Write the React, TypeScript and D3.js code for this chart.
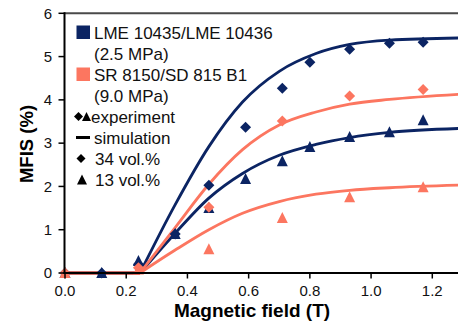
import React from "react";
import * as d3 from "d3";

// ---- data ----
const xTicks = [0, 0.2, 0.4, 0.6, 0.8, 1.0, 1.2];
const yTicks = [0, 1, 2, 3, 4, 5, 6];

const fieldAll = [0, 0.12, 0.24, 0.36, 0.47, 0.59, 0.71, 0.8, 0.93, 1.06, 1.17];
const lme34Exp = [0, 0, 0.2, 0.9, 2.03, 3.37, 4.27, 4.87, 5.17, 5.31, 5.33];
const lme13Exp = [0, 0, 0.28, 0.9, 1.5, 2.17, 2.58, 2.91, 3.14, 3.25, 3.53];

const fieldSR = [0, 0.24, 0.47, 0.71, 0.93, 1.17];
const sr34Exp = [0, 0.12, 1.52, 3.51, 4.09, 4.24];
const sr13Exp = [0, 0.08, 0.55, 1.27, 1.75, 1.98];

// simulation curves (flat at zero until the onset field)
const onset = 0.245;
const simField = [0.245, 0.36, 0.47, 0.58, 0.7, 0.82, 0.93, 1.06, 1.29];
const lme34Sim = [0, 1.58, 2.92, 3.95, 4.66, 5.07, 5.28, 5.38, 5.43];
const sr34Sim = [0, 1.05, 2.05, 2.85, 3.42, 3.72, 3.9, 4.01, 4.13];
const lme13Sim = [0, 0.92, 1.73, 2.3, 2.72, 2.97, 3.13, 3.25, 3.34];
const sr13Sim = [0, 0.53, 1.0, 1.38, 1.65, 1.82, 1.91, 1.97, 2.03];

const legendItems = [
  "LME 10435/LME 10436",
  "(2.5 MPa)",
  "SR 8150/SD 815 B1",
  "(9.0 MPa)",
  "experiment",
  "simulation",
  "34 vol.%",
  "13 vol.%",
];

const NAVY = "#0b2463";
const CORAL = "#fc7660";
const FONT = "'Liberation Sans', Arial, sans-serif";

const W = 458;
const H = 326;

export default function App() {
  const x = d3.scaleLinear().domain([0, 1.284]).range([65, 458]);
  const y = d3.scaleLinear().domain([0, 6]).range([273, 13.3]);

  const curve = (ys: number[]) => {
    const pts: [number, number][] = simField.map((v, i) => [x(v), y(ys[i])]);
    const rising = d3.line().curve(d3.curveMonotoneX)(pts) || "";
    return `M${x(0)},${y(0)}L${x(onset)},${y(0)}` + rising.replace(/^M/, "L");
  };

  const diamond = (cx: number, cy: number, r: number) =>
    `M${cx},${cy - r}L${cx + r},${cy}L${cx},${cy + r}L${cx - r},${cy}Z`;
  const triangle = (cx: number, cy: number, w: number, h: number) =>
    `M${cx},${cy - h / 2 - 1}L${cx + w / 2},${cy + h / 2}L${cx - w / 2},${cy + h / 2}Z`;

  const rowY = (i: number) => 32.5 + i * 21;

  return (
    <svg width={W} height={H} style={{ position: "absolute", left: 0, top: 0 }} fontFamily={FONT}>
      <rect width={W} height={H} fill="#fff" />
      {/* top border */}
      <line x1={64} x2={W} y1={y(6)} y2={y(6)} stroke="#4a4a4a" strokeWidth={2} />

      {/* simulation curves */}
      <path d={curve(lme34Sim)} fill="none" stroke={NAVY} strokeWidth={2.8} />
      <path d={curve(lme13Sim)} fill="none" stroke={NAVY} strokeWidth={2.8} />
      <path d={curve(sr34Sim)} fill="none" stroke={CORAL} strokeWidth={2.8} />
      <path d={curve(sr13Sim)} fill="none" stroke={CORAL} strokeWidth={2.8} />

      {/* experiment markers */}
      {fieldAll.map((v, i) => (
        <path key={"l34" + i} d={diamond(x(v), y(lme34Exp[i]), 5.5)} fill={NAVY} />
      ))}
      {fieldAll.map((v, i) => (
        <path key={"l13" + i} d={triangle(x(v), y(lme13Exp[i]), 11, 10)} fill={NAVY} />
      ))}
      {fieldSR.map((v, i) => (
        <path key={"s34" + i} d={diamond(x(v), y(sr34Exp[i]), 5.5)} fill={CORAL} />
      ))}
      {fieldSR.map((v, i) => (
        <path key={"s13" + i} d={triangle(x(v), y(sr13Exp[i]), 11, 10)} fill={CORAL} />
      ))}

      {/* axes */}
      <line x1={64.5} x2={64.5} y1={y(6) - 1} y2={y(0) + 1} stroke="#000" strokeWidth={2} />
      <line x1={63.5} x2={W} y1={y(0)} y2={y(0)} stroke="#000" strokeWidth={2} />
      {yTicks.map((t) => (
        <g key={"yt" + t}>
          <line x1={58.5} x2={64} y1={y(t)} y2={y(t)} stroke="#000" strokeWidth={1.5} />
          <text x={52} y={y(t)} dy="0.35em" textAnchor="end" fontSize={15} fill="#111">
            {t}
          </text>
        </g>
      ))}
      {xTicks.map((t) => (
        <g key={"xt" + t}>
          <line x1={x(t)} x2={x(t)} y1={y(0)} y2={y(0) + 5.5} stroke="#000" strokeWidth={1.5} />
          <text x={x(t)} y={296} textAnchor="middle" fontSize={15} fill="#111">
            {t.toFixed(1)}
          </text>
        </g>
      ))}

      {/* axis titles */}
      <text x={252} y={317} textAnchor="middle" fontSize={19} fontWeight="bold" fill="#000">
        Magnetic field (T)
      </text>
      <text
        transform={`translate(33,144) rotate(-90)`}
        textAnchor="middle"
        fontSize={18.5}
        fontWeight="bold"
        fill="#000"
      >
        MFIS (%)
      </text>

      {/* legend */}
      <rect x={76.5} y={rowY(0) - 7} width={13.5} height={13.5} fill={NAVY} />
      <rect x={76.5} y={rowY(2) - 7} width={13.5} height={13.5} fill={CORAL} />
      <path d={diamond(78.5, rowY(4), 4.5)} fill="#000" />
      <path d={triangle(86.5, rowY(4) + 0.5, 9, 8)} fill="#000" />
      <line x1={76} x2={90} y1={rowY(5)} y2={rowY(5)} stroke="#000" strokeWidth={3} />
      <path d={diamond(81, rowY(6), 4.5)} fill="#000" />
      <path d={triangle(82, rowY(7) + 0.5, 10, 9)} fill="#000" />
      {legendItems.map((s, i) => (
        <text
          key={"lg" + i}
          x={i === 4 ? 91 : i >= 6 ? 95 : 94}
          y={rowY(i)}
          dy="0.36em"
          fontSize={17}
          fill="#111"
        >
          {s}
        </text>
      ))}
    </svg>
  );
}
